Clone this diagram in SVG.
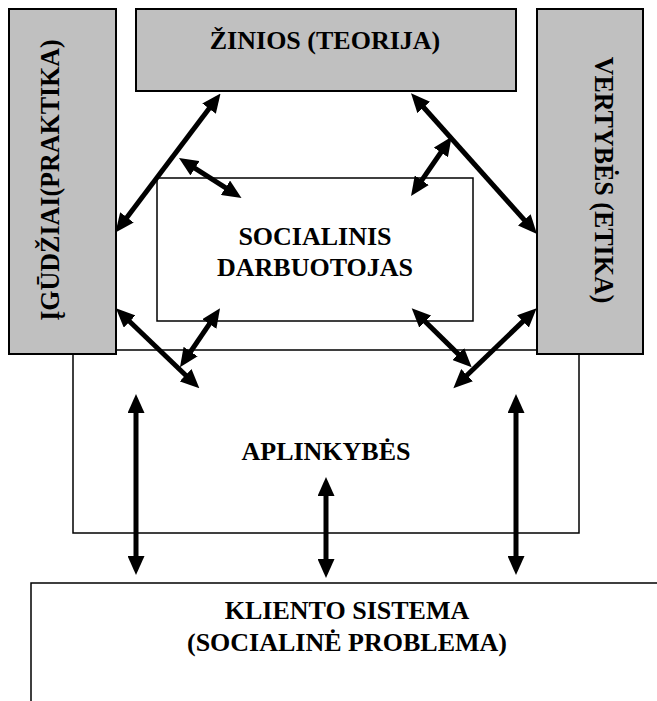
<svg xmlns="http://www.w3.org/2000/svg" width="657" height="701" viewBox="0 0 657 701">
<style>
.box{fill:#ffffff;stroke:#000;stroke-width:1.5}
.gray{fill:#c0c0c0;stroke:#000;stroke-width:2}
.t{font-family:"Liberation Serif","Times New Roman",serif;font-weight:bold;font-size:26px;fill:#000;text-anchor:middle}
.arr{stroke:#000;stroke-width:5;fill:none;marker-start:url(#ah);marker-end:url(#ah)}
</style>
<defs>
<marker id="ah" markerUnits="userSpaceOnUse" markerWidth="19" markerHeight="17" viewBox="0 0 19 17" refX="12" refY="8.5" orient="auto-start-reverse">
<path d="M0,0 L19,8.5 L0,17 z" fill="#000"/>
</marker>
</defs>
<rect width="657" height="701" fill="#ffffff"/>
<g id="klientas">
<rect class="box" x="31" y="583" width="640" height="140"/>
<text class="t" x="347" y="619">KLIENTO SISTEMA</text>
<text class="t" x="347" y="651">(SOCIALINĖ PROBLEMA)</text>
</g>
<g id="aplinkybes">
<rect class="box" x="73" y="350" width="506" height="183"/>
<text class="t" x="326" y="460">APLINKYBĖS</text>
</g>
<g id="zinios">
<rect class="gray" x="136" y="9" width="380" height="82"/>
<text class="t" x="325" y="49">ŽINIOS (TEORIJA)</text>
</g>
<g id="igudziai">
<rect class="gray" x="9" y="9" width="107" height="345"/>
<text class="t" transform="translate(58.5,180) rotate(-90) scale(1,1.03)" font-size="26.5">ĮGŪDŽIAI(PRAKTIKA)</text>
</g>
<g id="vertybes">
<rect class="gray" x="537" y="9" width="106" height="345"/>
<text class="t" transform="translate(595,180) rotate(90) scale(1,1.07)" font-size="26.5">VERTYBĖS (ETIKA)</text>
</g>
<g id="darbuotojas">
<rect class="box" x="157" y="178" width="316" height="143"/>
<text class="t" x="315" y="245">SOCIALINIS</text>
<text class="t" x="315" y="276">DARBUOTOJAS</text>
</g>
<g id="connectors">
<line class="arr" x1="216.3" y1="99.1" x2="119.7" y2="226.9"/>
<line class="arr" x1="184.9" y1="161.8" x2="235.6" y2="194.2"/>
<line class="arr" x1="415.7" y1="98.5" x2="532.3" y2="228.8"/>
<line class="arr" x1="447.7" y1="142.5" x2="415" y2="190.2"/>
<line class="arr" x1="121" y1="313.2" x2="194.3" y2="383.5"/>
<line class="arr" x1="216.1" y1="314.1" x2="183.9" y2="361.5"/>
<line class="arr" x1="416.7" y1="313.2" x2="466.7" y2="362.4"/>
<line class="arr" x1="531.6" y1="313.1" x2="458.4" y2="383.5"/>
<line class="arr" x1="136" y1="401" x2="136" y2="568"/>
<line class="arr" x1="326" y1="484" x2="326" y2="571"/>
<line class="arr" x1="516" y1="401" x2="516" y2="568"/>
</g>
</svg>
